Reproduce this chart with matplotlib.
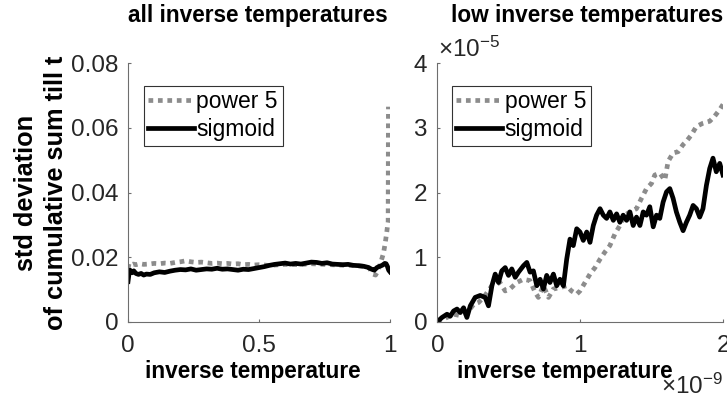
import matplotlib
matplotlib.use("Agg")
import matplotlib.pyplot as plt
from matplotlib.ticker import FuncFormatter, ScalarFormatter

plt.rcParams['font.family'] = ['Liberation Sans', 'DejaVu Sans']
plt.rcParams['mathtext.fontset'] = 'custom'
plt.rcParams['mathtext.rm'] = 'Liberation Sans'
plt.rcParams['mathtext.it'] = 'Liberation Sans'
plt.rcParams['mathtext.sf'] = 'Liberation Sans'
plt.rcParams['axes.unicode_minus'] = False

# ---------------- data: all inverse temperatures ----------------
all_sig_x = [0.000, 0.004, 0.008, 0.015, 0.022, 0.030, 0.040, 0.050, 0.060, 0.070,
             0.085, 0.100, 0.120, 0.140, 0.160, 0.180, 0.200, 0.220, 0.240, 0.260,
             0.280, 0.300, 0.320, 0.340, 0.360, 0.380, 0.400, 0.420, 0.440, 0.460,
             0.480, 0.500, 0.520, 0.540, 0.560, 0.580, 0.600, 0.620, 0.640, 0.660,
             0.680, 0.700, 0.720, 0.740, 0.760, 0.780, 0.800, 0.820, 0.840, 0.860,
             0.880, 0.900, 0.915, 0.930, 0.940, 0.950, 0.960, 0.970, 0.980, 0.985,
             0.990, 0.995, 1.000]
all_sig_y = [0.0125, 0.0150, 0.0160, 0.0152, 0.0158, 0.0150, 0.0147, 0.0150, 0.0145, 0.0148,
             0.0147, 0.0152, 0.0155, 0.0153, 0.0157, 0.0160, 0.0162, 0.0161, 0.0164, 0.0160,
             0.0162, 0.0164, 0.0163, 0.0166, 0.0163, 0.0164, 0.0162, 0.0160, 0.0163, 0.0162,
             0.0165, 0.0168, 0.0171, 0.0175, 0.0178, 0.0180, 0.0182, 0.0179, 0.0181, 0.0179,
             0.0182, 0.0185, 0.0184, 0.0181, 0.0183, 0.0179, 0.0178, 0.0177, 0.0178, 0.0175,
             0.0174, 0.0172, 0.0169, 0.0163, 0.0160, 0.0168, 0.0172, 0.0175, 0.0181, 0.0180,
             0.0172, 0.0160, 0.0155]

all_pow_x = [0.000, 0.004, 0.010, 0.020, 0.030, 0.045, 0.060, 0.080, 0.100, 0.120,
             0.140, 0.160, 0.180, 0.200, 0.220, 0.240, 0.260, 0.280, 0.300, 0.320,
             0.340, 0.360, 0.380, 0.400, 0.420, 0.440, 0.460, 0.480, 0.500, 0.520,
             0.540, 0.560, 0.600, 0.650, 0.700, 0.750, 0.800, 0.850, 0.900, 0.920,
             0.935, 0.945, 0.955, 0.965, 0.975, 0.982, 0.988, 0.991, 0.993, 0.994]
all_pow_y = [0.0165, 0.0180, 0.0176, 0.0179, 0.0177, 0.0180, 0.0178, 0.0179, 0.0181, 0.0180,
             0.0182, 0.0181, 0.0184, 0.0186, 0.0189, 0.0186, 0.0184, 0.0185, 0.0183, 0.0181,
             0.0182, 0.0180, 0.0181, 0.0179, 0.0180, 0.0177, 0.0178, 0.0176, 0.0177, 0.0176,
             0.0174, 0.0176, 0.0178, 0.0177, 0.0180, 0.0178, 0.0176, 0.0175, 0.0172, 0.0168,
             0.0148, 0.0145, 0.0160, 0.0185, 0.0212, 0.0245, 0.0280, 0.0300, 0.0310, 0.0665]

# ---------------- data: low inverse temperatures (x in 1e-9, y in 1e-5) ----------------
X_UNIT = 1e-9
Y_UNIT = 1e-5
low_sig_x = [0.000, 0.035, 0.070, 0.093, 0.116, 0.140, 0.163, 0.186, 0.209, 0.233,
             0.267, 0.302, 0.337, 0.360, 0.384, 0.407, 0.430, 0.453, 0.477, 0.500,
             0.523, 0.547, 0.570, 0.605, 0.628, 0.651, 0.674, 0.698, 0.721, 0.744,
             0.767, 0.790, 0.814, 0.837, 0.860, 0.884, 0.907, 0.930, 0.953, 0.977,
             1.000, 1.023, 1.047, 1.070, 1.093, 1.116, 1.140, 1.163, 1.186, 1.209,
             1.233, 1.256, 1.279, 1.302, 1.326, 1.349, 1.372, 1.395, 1.419, 1.442,
             1.465, 1.488, 1.512, 1.535, 1.558, 1.581, 1.605, 1.628, 1.651, 1.674,
             1.698, 1.721, 1.744, 1.767, 1.791, 1.814, 1.837, 1.860, 1.884, 1.907,
             1.930, 1.953, 1.977, 2.000]
low_sig_y = [0.00, 0.07, 0.12, 0.09, 0.17, 0.20, 0.145, 0.22, 0.07, 0.25,
             0.38, 0.41, 0.38, 0.25, 0.56, 0.74, 0.61, 0.79, 0.84, 0.72,
             0.82, 0.69, 0.77, 0.87, 0.92, 0.77, 0.79, 0.56, 0.66, 0.51,
             0.72, 0.61, 0.74, 0.56, 0.66, 0.56, 0.97, 1.28, 1.18, 1.44,
             1.39, 1.26, 1.39, 1.23, 1.49, 1.65, 1.75, 1.65, 1.60, 1.70,
             1.57, 1.67, 1.54, 1.65, 1.57, 1.70, 1.49, 1.62, 1.49, 1.70,
             1.65, 1.78, 1.47, 1.65, 1.60, 1.85, 2.01, 2.06, 1.91, 1.70,
             1.54, 1.41, 1.54, 1.65, 1.80, 1.75, 1.62, 1.75, 2.11, 2.37,
             2.53, 2.32, 2.45, 2.27]

low_pow_x = [0.000, 0.060, 0.116, 0.160, 0.210, 0.256, 0.290, 0.326, 0.384, 0.440,
             0.477, 0.510, 0.558, 0.605, 0.650, 0.686, 0.709, 0.744, 0.780, 0.814,
             0.860, 0.907, 0.940, 0.977, 1.000, 1.035, 1.070, 1.105, 1.140, 1.174,
             1.209, 1.244, 1.279, 1.314, 1.349, 1.395, 1.430, 1.465, 1.500, 1.523,
             1.558, 1.593, 1.616, 1.651, 1.686, 1.721, 1.744, 1.779, 1.814, 1.860,
             1.907, 1.942, 1.977, 2.000]
low_pow_y = [0.00, 0.06, 0.12, 0.10, 0.145, 0.27, 0.30, 0.38, 0.56, 0.61,
             0.48, 0.51, 0.61, 0.66, 0.64, 0.46, 0.38, 0.56, 0.38, 0.51,
             0.53, 0.56, 0.48, 0.43, 0.48, 0.61, 0.74, 0.84, 0.97, 1.08,
             1.18, 1.36, 1.49, 1.65, 1.70, 1.75, 1.91, 2.06, 2.14, 2.27,
             2.30, 2.19, 2.48, 2.61, 2.63, 2.74, 2.79, 2.89, 3.02, 3.07,
             3.10, 3.18, 3.28, 3.36]

labels = ["power 5", "sigmoid"]
titles = ["all inverse temperatures", "low inverse temperatures"]
xlabel = "inverse temperature"
ylabel = "std deviation\nof cumulative sum till t"

GRAY = "#8c8c8c"
TXT = "#262626"
SPINE = "#6e6e6e"
LW = 3.4
DOTS = (1.0, 1.0)
TICK_FS = 17.5

W, H = 727, 399
fig = plt.figure(figsize=(W / 100, H / 100), dpi=100)
ax1 = fig.add_axes([128 / W, 1 - 322 / H, 262 / W, 259 / H])
ax2 = fig.add_axes([437 / W, 1 - 322 / H, 286 / W, 259 / H])

def style(ax):
    for s in ("top", "right"):
        ax.spines[s].set_visible(False)
    for s in ("left", "bottom"):
        ax.spines[s].set_color(SPINE)
        ax.spines[s].set_linewidth(0.8)
    ax.tick_params(direction="in", length=2.5, width=0.8, color=SPINE,
                   labelsize=TICK_FS, labelcolor=TXT)
    ax.tick_params(axis="x", pad=9)
    ax.tick_params(axis="y", pad=7)

# left panel
ax1.plot(all_pow_x, all_pow_y, color=GRAY, lw=LW, dashes=DOTS,
         dash_capstyle="butt", label=labels[0])
ax1.plot(all_sig_x, all_sig_y, color="black", lw=LW, label=labels[1])
ax1.set_xlim(0, 1)
ax1.set_ylim(0, 0.08)
ax1.set_xticks([0, 0.5, 1])
ax1.set_yticks([0, 0.02, 0.04, 0.06, 0.08])
fmt = FuncFormatter(lambda v, p: "%g" % v)
ax1.xaxis.set_major_formatter(fmt)
ax1.yaxis.set_major_formatter(fmt)
style(ax1)

# right panel
ax2.plot([v * X_UNIT for v in low_pow_x], [v * Y_UNIT for v in low_pow_y],
         color=GRAY, lw=LW, dashes=DOTS, dash_capstyle="butt", label=labels[0])
ax2.plot([v * X_UNIT for v in low_sig_x], [v * Y_UNIT for v in low_sig_y],
         color="black", lw=LW, label=labels[1])
ax2.set_xlim(0, 2e-9)
ax2.set_ylim(0, 4e-5)
ax2.set_xticks([0, 1e-9, 2e-9])
ax2.set_yticks([0, 1e-5, 2e-5, 3e-5, 4e-5])
sfx = ScalarFormatter(useMathText=True)
sfx.set_powerlimits((-3, 3))
sfy = ScalarFormatter(useMathText=True)
sfy.set_powerlimits((-3, 3))
ax2.xaxis.set_major_formatter(sfx)
ax2.yaxis.set_major_formatter(sfy)
style(ax2)

for ax, t, tx, lx, lgx in ((ax1, titles[0], 0.496, 0.475, 0.06),
                           (ax2, titles[1], 0.523, 0.448, 0.052)):
    ax.set_title(t, fontsize=16.3, fontweight="bold", x=tx, y=1.16, pad=0)
    ax.set_xlabel(xlabel, fontsize=16.3, fontweight="bold")
    ax.xaxis.set_label_coords(lx, -0.148)
    leg = ax.legend(loc="upper left", bbox_to_anchor=(lgx, 0.912),
                    fontsize=16.5, frameon=True, fancybox=False, handlelength=2.0,
                    handletextpad=0.1, borderpad=0.2, labelspacing=0.2,
                    borderaxespad=0)
    leg.get_frame().set_edgecolor("black")
    leg.get_frame().set_linewidth(0.8)

ax1.set_ylabel(ylabel, fontsize=18.3, fontweight="bold", va="center", linespacing=1.3)
ax1.yaxis.set_label_coords((41 - 128) / 262, 0.5)

# offset texts (x10^n) computed by the formatters, placed like the reference
sfx.set_locs(ax2.get_xticks())
sfy.set_locs(ax2.get_yticks())
ax2.xaxis.offsetText.set_visible(False)
ax2.yaxis.offsetText.set_visible(False)
ax2.annotate(sfy.get_offset(), xy=(0, 1), xycoords="axes fraction",
             xytext=(1, 4.3), textcoords="offset points", ha="left", va="baseline",
             fontsize=TICK_FS, color=TXT, annotation_clip=False)
ax2.annotate(sfx.get_offset(), xy=(1, 0), xycoords="axes fraction",
             xytext=(0, -51.5), textcoords="offset points", ha="right", va="baseline",
             fontsize=TICK_FS, color=TXT, annotation_clip=False)

fig.savefig("out.png", dpi=100)
